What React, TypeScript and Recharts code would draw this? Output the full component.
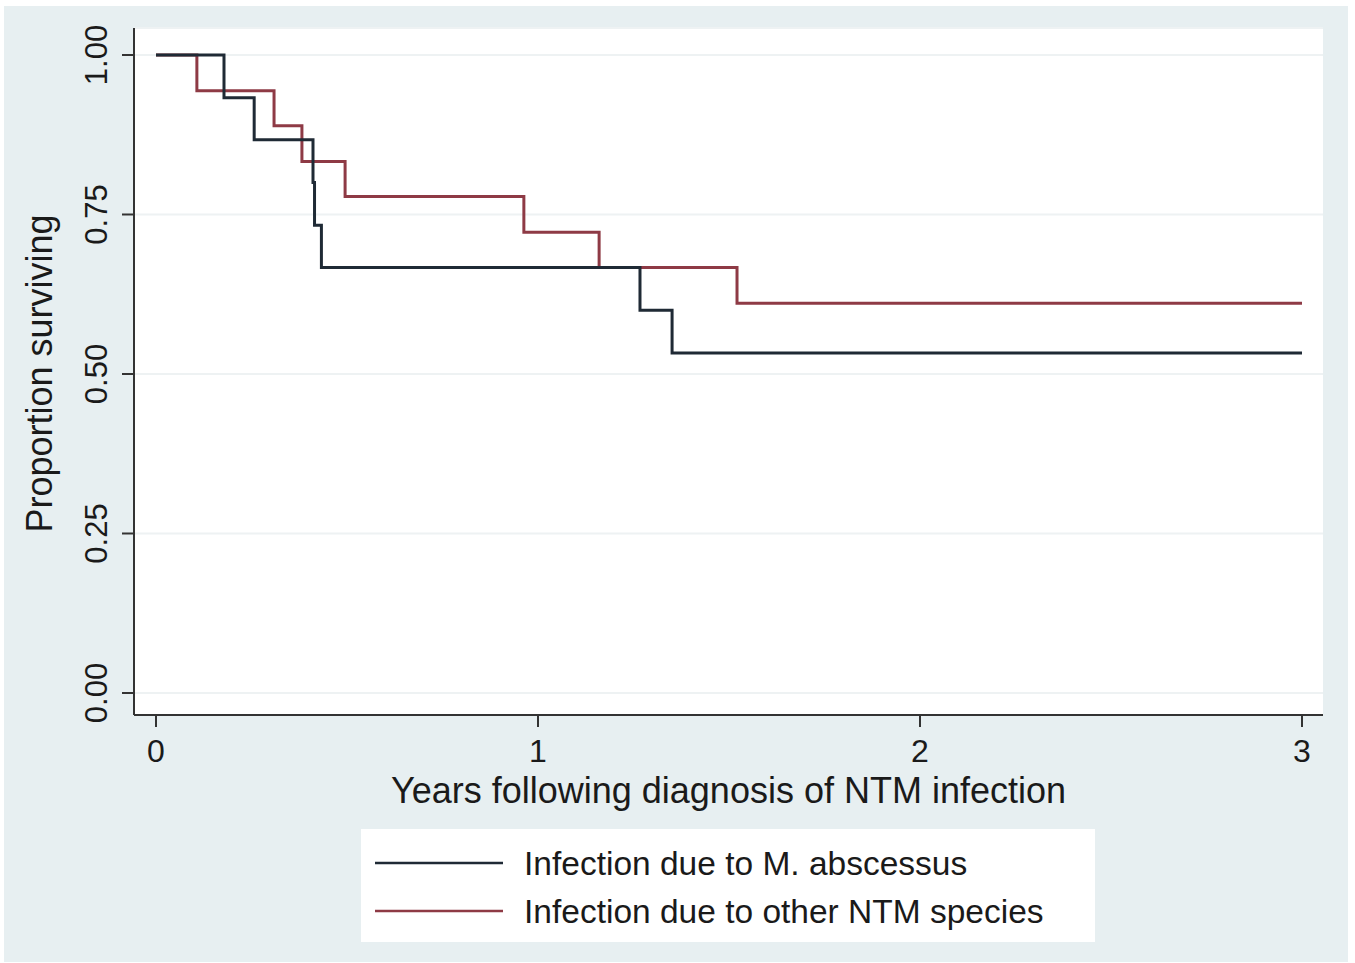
import React from "react";
import { LineChart, Line, XAxis, YAxis, CartesianGrid, Legend } from "recharts";

// Kaplan-Meier step data
const absTimes = [0, 0.178, 0.257, 0.411, 0.415, 0.433, 1.267, 1.351, 3];
const absSurv = [1, 0.933, 0.867, 0.8, 0.733, 0.667, 0.6, 0.533, 0.533];
const othTimes = [0, 0.107, 0.309, 0.382, 0.495, 0.963, 1.16, 1.521, 3];
const othSurv = [1, 0.944, 0.889, 0.833, 0.778, 0.722, 0.667, 0.611, 0.611];

const seriesNames = ["Infection due to M. abscessus", "Infection due to other NTM species"];
const seriesColors = ["#1f2a35", "#8e3a45"];
const xTicks = [0, 1, 2, 3];
const yTicks = [0, 0.25, 0.5, 0.75, 1];
const xTitle = "Years following diagnosis of NTM infection";
const yTitle = "Proportion surviving";

const absData = absTimes.map((t, i) => ({ t, s: absSurv[i] }));
const othData = othTimes.map((t, i) => ({ t, s: othSurv[i] }));

const FONT = "'Liberation Sans', Arial, Helvetica, sans-serif";
const TEXT = "#1a1a1a";

const XTick = (props: any) => {
  const { x, y, payload } = props;
  return (
    <text x={x} y={y + 33} textAnchor="middle" fontFamily={FONT} fontSize={32} fill={TEXT}>
      {String(payload.value)}
    </text>
  );
};

const YTick = (props: any) => {
  const { x, y, payload } = props;
  const bx = x - 13;
  return (
    <text
      x={bx}
      y={y}
      textAnchor="middle"
      transform={`rotate(-90, ${bx}, ${y})`}
      fontFamily={FONT}
      fontSize={31}
      fill={TEXT}
    >
      {Number(payload.value).toFixed(2)}
    </text>
  );
};

const XTitle = (props: any) => {
  const vb = props.viewBox || {};
  const cx = vb.x + vb.width / 2;
  return (
    <text x={cx} y={803} textAnchor="middle" fontFamily={FONT} fontSize={36} fill={TEXT}>
      {xTitle}
    </text>
  );
};

const YTitle = (props: any) => {
  const vb = props.viewBox || {};
  const cy = vb.y + vb.height / 2 + 2;
  const bx = 52;
  return (
    <text
      x={bx}
      y={cy}
      textAnchor="middle"
      transform={`rotate(-90, ${bx}, ${cy})`}
      fontFamily={FONT}
      fontSize={36}
      fill={TEXT}
    >
      {yTitle}
    </text>
  );
};

const LegendBox = (props: any) => {
  const payload: any[] = props.payload || [];
  const ordered = seriesNames.map(
    (n, i) => payload.find((p) => p.value === n) || { value: n, color: seriesColors[i] }
  );
  return (
    <svg width={734} height={113} style={{ display: "block" }}>
      <rect x={0} y={0} width={734} height={113} fill="#ffffff" />
      {ordered.map((p, i) => {
        const cy = 34 + i * 48;
        return (
          <g key={p.value}>
            <line x1={14} x2={142} y1={cy} y2={cy} stroke={p.color} strokeWidth={2.5} />
            <text x={163} y={cy + 12} fontFamily={FONT} fontSize={33.5} fill={TEXT}>
              {p.value}
            </text>
          </g>
        );
      })}
    </svg>
  );
};

export default function App() {
  return (
    <div style={{ position: "absolute", left: 0, top: 0, width: 1355, height: 963, background: "#ffffff" }}>
      <div
        style={{ position: "absolute", left: 4, top: 6, width: 1344, height: 956, background: "#e7eff1" }}
      />
      <div style={{ position: "absolute", left: 0, top: 0 }}>
        <LineChart width={1355} height={963} margin={{ top: 28, right: 32, bottom: 188, left: 34 }}>
          <CartesianGrid horizontal vertical={false} stroke="#eef2f3" strokeWidth={2} fill="#ffffff" />
          <XAxis
            type="number"
            dataKey="t"
            domain={[-0.0576, 3.055]}
            ticks={xTicks}
            allowDataOverflow
            height={60}
            tickSize={12}
            tickLine={{ stroke: "#333", strokeWidth: 2 }}
            axisLine={{ stroke: "#333", strokeWidth: 2 }}
            tick={<XTick />}
            label={<XTitle />}
          />
          <YAxis
            type="number"
            dataKey="s"
            domain={[-0.0345, 1.0423]}
            ticks={yTicks}
            allowDataOverflow
            width={100}
            tickSize={12}
            tickLine={{ stroke: "#333", strokeWidth: 2 }}
            axisLine={{ stroke: "#333", strokeWidth: 2 }}
            tick={<YTick />}
            label={<YTitle />}
          />
          <Line
            data={othData}
            dataKey="s"
            name={seriesNames[1]}
            type="stepAfter"
            stroke={seriesColors[1]}
            strokeWidth={3}
            dot={false}
            activeDot={false}
            isAnimationActive={false}
          />
          <Line
            data={absData}
            dataKey="s"
            name={seriesNames[0]}
            type="stepAfter"
            stroke={seriesColors[0]}
            strokeWidth={3}
            dot={false}
            activeDot={false}
            isAnimationActive={false}
          />
          <Legend
            layout="horizontal"
            verticalAlign="middle"
            align="center"
            content={<LegendBox />}
            wrapperStyle={{ position: "absolute", left: 361, top: 829, width: 734, height: 113 }}
          />
        </LineChart>
      </div>
    </div>
  );
}
